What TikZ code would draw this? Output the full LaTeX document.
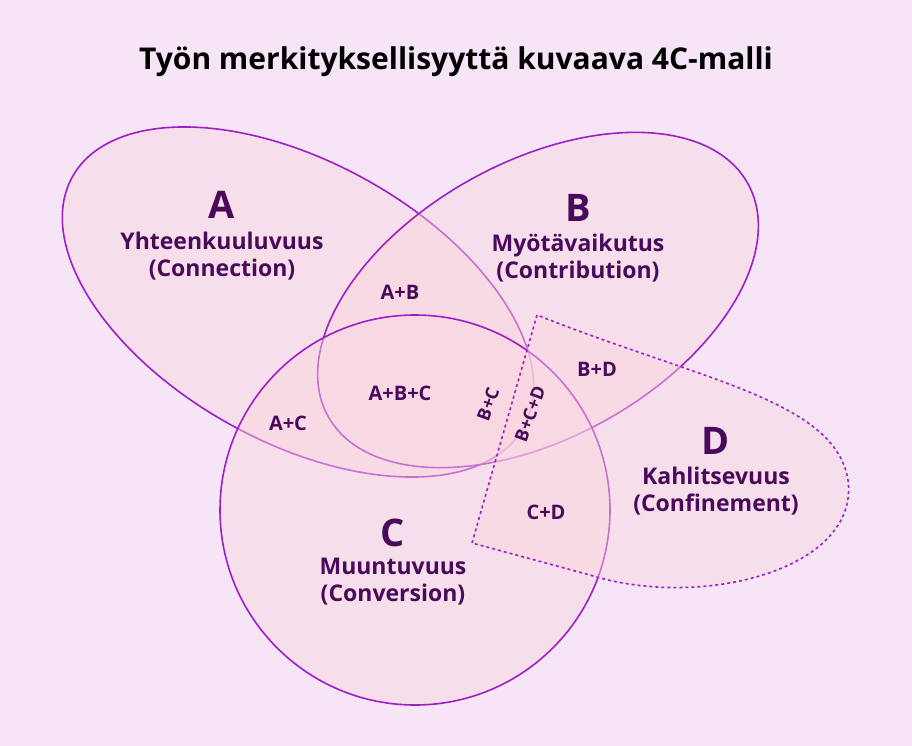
\documentclass[tikz,border=0pt]{standalone}
\usepackage{fontspec}
\setmainfont{Open Sans}
\definecolor{bg}{HTML}{F6E5F6}
\definecolor{ln}{HTML}{9E1FC8}
\definecolor{fl}{HTML}{FAD6DF}
\definecolor{tx}{HTML}{4A0A5C}
\begin{document}
\begin{tikzpicture}[x=1pt,y=-1pt,
  shp/.style={draw=ln,line width=1.6pt,fill=fl,fill opacity=0.45},
  big/.style={text=tx,font=\bfseries\fontsize{38}{38}\selectfont},
  lab/.style={text=tx,font=\bfseries\fontsize{23}{27}\selectfont,align=center},
  sm/.style={text=tx,font=\bfseries\fontsize{20}{22}\selectfont},
  rs/.style={text=tx,font=\bfseries\fontsize{18}{20}\selectfont,rotate=70,inner sep=1pt}]
\fill[bg] (0,0) rectangle (912,746);
\node[font=\bfseries\fontsize{30}{32}\selectfont] (title) at (456,62) {Työn merkityksellisyyttä kuvaava 4C-malli};
\path[shp] (298,302) ellipse[x radius=258,y radius=140,rotate=-29];
\path[shp] (538,300) ellipse[x radius=240,y radius=138,rotate=29];
\path[shp] (415,510) circle (195);
\path[shp,dashed] (537,315) -- (472,543) -- (590,575) .. controls (700,610) and (860,570) .. (848,480) .. controls (835,400) and (700,380) .. (537,315) -- cycle;
\node[big] (A) at (222,205) {A};
\node[lab] (Al) at (222,256) {Yhteenkuuluvuus\\(Connection)};
\node[big] (B) at (578,208) {B};
\node[lab] (Bl) at (578,258) {Myötävaikutus\\(Contribution)};
\node[big] (C) at (393,533) {C};
\node[lab] (Cl) at (393,582) {Muuntuvuus\\(Conversion)};
\node[big] (D) at (716,441) {D};
\node[lab] (Dl) at (716,491) {Kahlitsevuus\\(Confinement)};
\node[sm] (ab) at (400,292) {A+B};
\node[sm] (abc) at (400,393) {A+B+C};
\node[sm] (ac) at (288,423) {A+C};
\node[rs] (bc) at (488,404) {B+C};
\node[rs] (bcd) at (530,414) {B+C+D};
\node[sm] (bd) at (597,369) {B+D};
\node[sm] (cd) at (546,512) {C+D};
\end{tikzpicture}
\end{document}
